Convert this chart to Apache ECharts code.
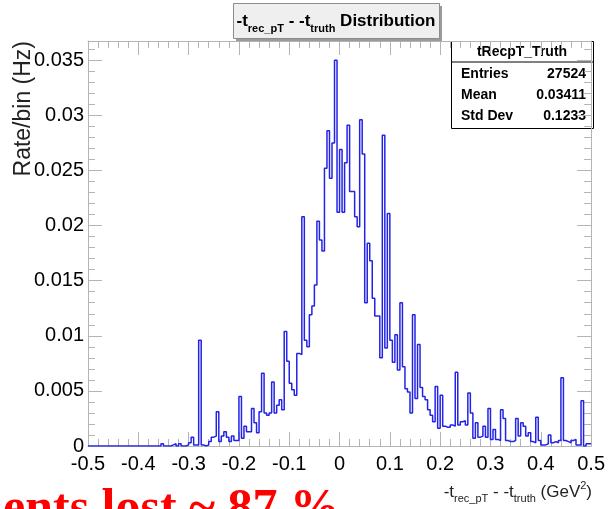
<!DOCTYPE html>
<html>
<head>
<meta charset="utf-8">
<script src="https://cdn.jsdelivr.net/npm/echarts@6/dist/echarts.min.js"></script>
<style>
    html, body { margin: 0; padding: 0; background: #fff; }
    #main { width: 608px; height: 509px; }
</style>
</head>
<body>
<div id="main"></div>
<script>
// histogram binning (200 bins on [-0.5, 0.5])
var xMin = -0.5;
var xMax = 0.5;
var binWidth = 0.005;

// rate per bin (Hz)
var rates = [
    0, 0, 0, 0, 0, 0, 0, 0, 0, 0,
    0, 0, 0, 0, 0, 0, 0, 0, 0, 0,
    0, 0, 0, 0, 0, 0, 0, 0, 0, 0.0002,
    0, 0, 0, 0.0001, 0.0002, 0, 0.0002, 0, 0, 0.0001,
    0.0003, 0.0008, 0.0001, 0.0001, 0.0096, 0.0001, 0, 0.0001, 0.0004, 0.0008,
    0.0009, 0.0031, 0.0004, 0.0009, 0.0013, 0.0008, 0.0004, 0.0009, 0.0005, 0.0005,
    0.0045, 0.0007, 0.0018, 0.0013, 0.0013, 0.0034, 0.0021, 0.0012, 0.0031, 0.0066,
    0.0030, 0.0028, 0.0030, 0.0058, 0.0030, 0.0037, 0.0042, 0.0033, 0.0104, 0.0077,
    0.0057, 0.0051, 0.0046, 0.0084, 0.0083, 0.0208, 0.0096, 0.0090, 0.0119, 0.0127,
    0.0146, 0.0204, 0.0187, 0.0177, 0.0252, 0.0286, 0.0243, 0.0275, 0.0350, 0.0212,
    0.0269, 0.0212, 0.0257, 0.0291, 0.0231, 0.0231, 0.0208, 0.0199, 0.0296, 0.0265,
    0.0130, 0.0184, 0.0168, 0.0134, 0.0118, 0.0118, 0.0080, 0.0282, 0.0089, 0.0211,
    0.0096, 0.0076, 0.0101, 0.0069, 0.0130, 0.0072, 0.0052, 0.0049, 0.0030, 0.0119,
    0.0043, 0.0092, 0.0053, 0.0045, 0.0042, 0.0033, 0.0028, 0.0022, 0.0054, 0.0016,
    0.0046, 0.0018, 0.0017, 0.0017, 0.0019, 0.0018, 0.0067, 0.0019, 0.0022, 0.0023,
    0.0019, 0.0048, 0.0030, 0.0007, 0.0021, 0.0008, 0.0009, 0.0018, 0.0008, 0.0034,
    0.0006, 0.0015, 0.0006, 0.0005, 0.0033, 0.0025, 0.0005, 0.0004, 0.0004, 0.0005,
    0.0025, 0.0009, 0.0021, 0.0018, 0.0009, 0.0012, 0.0004, 0.0003, 0.0026, 0.0005,
    0.0001, 0.0001, 0.0002, 0.0010, 0.0003, 0.0004, 0.0003, 0.0005, 0.0062, 0.0005,
    0.0004, 0.0003, 0.0005, 0.0006, 0.0001, 0.0001, 0.0041, 0, 0.0002, 0.0002
];

var xTickStep = 0.1;
var yTickStep = 0.005;
var yMax = 0.03675;

var statsTitle = 'tRecpT_Truth';
var statsNames = ['Entries', 'Mean', 'Std Dev'];
var statsValues = ['27524', '0.03411', '0.1233'];

var frameColor = '#b4b4b4';
var lineColor = '#2323e6';
var sansFont = 'Liberation Sans';

// bin edges -> step outline
var histData = [];
for (var i = 0; i < rates.length; i++) {
    histData.push([xMin + i * binWidth, rates[i]]);
}
histData.push([xMax, rates[rates.length - 1]]);

function tickText(v) {
    if (Math.abs(v) < 1e-9) return '0';
    return String(+v.toFixed(3));
}

function frameAxis(pos, showLabel, extra) {
    var ax = {
        type: 'value',
        position: pos,
        splitLine: {show: false},
        axisLine: {show: true, onZero: false, lineStyle: {color: frameColor, width: 1}},
        axisTick: {show: true, inside: true, length: 14, lineStyle: {color: frameColor}},
        minorTick: {show: true, splitNumber: 5, length: 7, lineStyle: {color: frameColor}},
        axisLabel: {
            show: showLabel,
            color: '#000',
            fontFamily: sansFont,
            fontSize: 20,
            formatter: tickText,
            showMaxLabel: false
        }
    };
    for (var k in extra) ax[k] = extra[k];
    return ax;
}

var xA = frameAxis('bottom', true, {min: xMin, max: xMax, interval: xTickStep});
xA.axisLabel.showMaxLabel = true;
xA.axisLabel.margin = 8;
var xB = frameAxis('top', false, {min: xMin, max: xMax, interval: xTickStep});
var yA = frameAxis('left', true, {min: 0, max: yMax, interval: yTickStep});
yA.axisLabel.margin = 4;
var yB = frameAxis('right', false, {min: 0, max: yMax, interval: yTickStep});

function statText(x, y, text, align) {
    return {
        type: 'text', x: x, y: y,
        style: {text: text, align: align, verticalAlign: 'middle', fontFamily: sansFont, fontWeight: 'bold', fontSize: 14, fill: '#000'}
    };
}

var myChart = echarts.init(document.getElementById('main'), null, {renderer: 'canvas'});
myChart.setOption({
    animation: false,
    backgroundColor: '#fff',
    grid: {left: 88, right: 15, top: 41, bottom: 63},
    xAxis: [xA, xB],
    yAxis: [yA, yB],
    series: [{
        type: 'line',
        step: 'end',
        data: histData,
        symbol: 'none',
        lineStyle: {color: lineColor, width: 1.5}
    }],
    graphic: [
        // title box
        {
            type: 'rect', left: 236, top: 6,
            shape: {width: 206, height: 35},
            style: {fill: '#9a9a9a'}
        },
        {
            type: 'rect', left: 233, top: 3,
            shape: {width: 206, height: 35},
            style: {fill: '#efefef', stroke: '#8c8c8c', lineWidth: 1}
        },
        {
            type: 'text', x: 336, y: 21,
            style: {
                text: '{m|-t}{s|rec_pT}{m| - -t}{s|truth}{m| Distribution}',
                align: 'center', verticalAlign: 'middle',
                rich: {
                    m: {fontFamily: sansFont, fontWeight: 'bold', fontSize: 17, lineHeight: 26, fill: '#000'},
                    s: {fontFamily: sansFont, fontWeight: 'bold', fontSize: 11, lineHeight: 13, verticalAlign: 'bottom', fill: '#000'}
                }
            }
        },
        // stats box
        {
            type: 'rect', left: 451, top: 41,
            shape: {width: 142, height: 87},
            style: {fill: '#fff', stroke: '#000', lineWidth: 1}
        },
        {
            type: 'line',
            shape: {x1: 451, y1: 62, x2: 593, y2: 62},
            style: {stroke: '#000', lineWidth: 1}
        },
        statText(522, 52, statsTitle, 'center'),
        statText(461, 74, statsNames[0], 'left'),
        statText(586, 74, statsValues[0], 'right'),
        statText(461, 95, statsNames[1], 'left'),
        statText(586, 95, statsValues[1], 'right'),
        statText(461, 116, statsNames[2], 'left'),
        statText(586, 116, statsValues[2], 'right'),
        // y axis title
        {
            type: 'text', x: 24, y: 41, rotation: Math.PI / 2,
            style: {text: 'Rate/bin (Hz)', align: 'right', verticalAlign: 'middle', fontFamily: sansFont, fontSize: 23, fill: '#222'}
        },
        // x axis title
        {
            type: 'text', x: 592, y: 492,
            style: {
                text: '{m|-t}{s|rec_pT}{m| - -t}{s|truth}{m| (GeV}{p|2}{m|)}',
                align: 'right', verticalAlign: 'middle',
                rich: {
                    m: {fontFamily: sansFont, fontSize: 17, lineHeight: 24, fill: '#222'},
                    s: {fontFamily: sansFont, fontSize: 11, lineHeight: 12, verticalAlign: 'bottom', fill: '#222'},
                    p: {fontFamily: sansFont, fontSize: 11, lineHeight: 12, verticalAlign: 'top', fill: '#222'}
                }
            }
        },
        // overlaid slide text (cut at the left/bottom edges)
        {
            type: 'text', x: 3, y: 510,
            style: {text: 'ents lost ~ 87 %', verticalAlign: 'middle', fontFamily: 'Liberation Serif', fontWeight: 'bold', fontSize: 50, fill: '#ff0000'}
        }
    ]
});
</script>
</body>
</html>
